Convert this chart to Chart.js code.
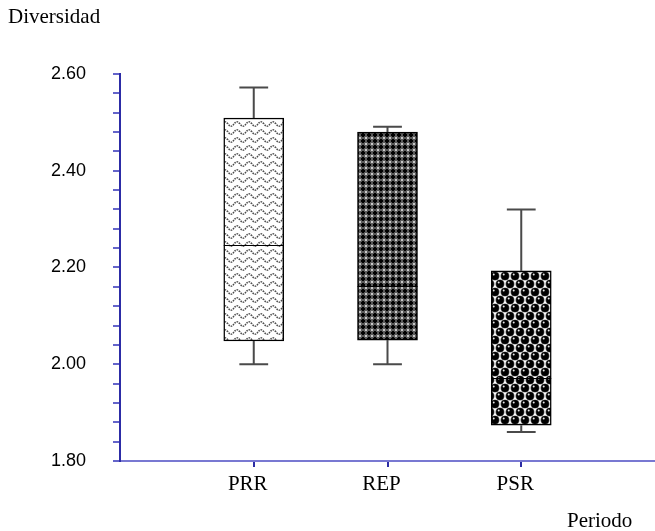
<!DOCTYPE html>
<html>
<head>
<meta charset="utf-8">
<script src="https://cdn.jsdelivr.net/npm/chart.js@4/dist/chart.umd.min.js"></script>
<style>
  html, body { margin: 0; padding: 0; background: #ffffff; }
  #wrap { width: 655px; height: 531px; position: relative; }
</style>
</head>
<body>
<div id="wrap"><canvas id="chart" width="655" height="531"></canvas></div>
<script>
// Diversity per period: box = quartiles, line = median, whiskers = min / max
const categories   = ['PRR', 'REP', 'PSR'];
const whiskerLow   = [2.000, 2.000, 1.860];
const boxLow       = [2.048, 2.050, 1.874];
const medians      = [2.247, 2.162, 1.971];
const boxHigh      = [2.509, 2.480, 2.193];
const whiskerHigh  = [2.572, 2.491, 2.320];

const yMin = 1.80, yMax = 2.60, yMinorStep = 0.04, yMajorStep = 0.20;
const yAxisTitle = 'Diversidad';
const xAxisTitle = 'Periodo';

// ---- fill patterns for the three boxes ----
function makeTile(w, h, paint) {
  const c = document.createElement('canvas');
  c.width = w; c.height = h;
  const g = c.getContext('2d');
  paint(g, w, h);
  return document.getElementById('chart').getContext('2d').createPattern(c, 'repeat');
}

// wavy dotted lines
const wavePattern = makeTile(12, 8, (g, w, h) => {
  g.fillStyle = '#ffffff'; g.fillRect(0, 0, w, h);
  g.strokeStyle = '#4a4a4a'; g.lineWidth = 1.5;
  g.setLineDash([1.6, 0.9]);
  g.beginPath();
  for (let x = -1; x <= w + 1; x += 0.5) {
    const y = 4 + 2.2 * Math.sin((x / w) * Math.PI * 2);
    if (x === -1) g.moveTo(x, y); else g.lineTo(x, y);
  }
  g.stroke();
});

// dense dark lattice
const latticePattern = makeTile(6, 6, (g, w, h) => {
  g.fillStyle = '#5a5a5a'; g.fillRect(0, 0, w, h);
  g.fillStyle = '#000000';
  g.fillRect(1, 2, 4, 2); g.fillRect(2, 1, 2, 4);
  g.fillStyle = '#c8c8c8';
  g.fillRect(0, 0, 1, 1); g.fillRect(5, 5, 1, 1); g.fillRect(5, 0, 1, 1); g.fillRect(0, 5, 1, 1);
});

// shaded balls in staggered rows
const ballPattern = makeTile(10, 16, (g, w, h) => {
  g.fillStyle = '#ffffff'; g.fillRect(0, 0, w, h);
  const balls = [[5, 4], [0, 12], [10, 12], [0, -4], [10, -4], [5, 20]];
  balls.forEach(([cx, cy]) => {
    g.beginPath(); g.arc(cx, cy, 4.6, 0, Math.PI * 2);
    g.fillStyle = '#7a7a7a'; g.fill();
    g.beginPath(); g.arc(cx, cy, 3.9, 0, Math.PI * 2);
    g.fillStyle = '#000000'; g.fill();
    g.beginPath(); g.arc(cx - 1.3, cy - 1.5, 1.0, 0, Math.PI * 2);
    g.fillStyle = '#e8e8e8'; g.fill();
  });
});

const boxFills = [wavePattern, latticePattern, ballPattern];

// whiskers, caps and median lines, placed with the chart's own scales
const boxExtras = {
  id: 'boxExtras',
  afterDatasetsDraw(chart) {
    const { ctx, scales: { x, y } } = chart;
    const meta = chart.getDatasetMeta(0);
    ctx.save();
    categories.forEach((c, i) => {
      const cx = x.getPixelForValue(i + 1);
      const bar = meta.data[i];
      const half = bar.width / 2;
      const capHalf = half * 0.48;
      ctx.strokeStyle = '#4a4a4a';
      ctx.lineWidth = 2;
      ctx.beginPath();
      ctx.moveTo(cx, y.getPixelForValue(boxHigh[i]));
      ctx.lineTo(cx, y.getPixelForValue(whiskerHigh[i]));
      ctx.moveTo(cx - capHalf, y.getPixelForValue(whiskerHigh[i]));
      ctx.lineTo(cx + capHalf, y.getPixelForValue(whiskerHigh[i]));
      ctx.moveTo(cx, y.getPixelForValue(boxLow[i]));
      ctx.lineTo(cx, y.getPixelForValue(whiskerLow[i]));
      ctx.moveTo(cx - capHalf, y.getPixelForValue(whiskerLow[i]));
      ctx.lineTo(cx + capHalf, y.getPixelForValue(whiskerLow[i]));
      ctx.stroke();
      ctx.strokeStyle = '#000000';
      ctx.lineWidth = 1;
      const my = Math.round(y.getPixelForValue(medians[i])) + 0.5;
      ctx.beginPath();
      ctx.moveTo(cx - half, my);
      ctx.lineTo(cx + half, my);
      ctx.stroke();
    });
    ctx.restore();
  },
  afterDraw(chart) {
    const { ctx } = chart;
    ctx.save();
    ctx.fillStyle = '#000000';
    ctx.font = '21px "Liberation Serif"';
    ctx.textBaseline = 'alphabetic';
    ctx.textAlign = 'left';
    ctx.fillText(yAxisTitle, 8, 23);
    ctx.fillText(xAxisTitle, 567, 527);
    ctx.restore();
  }
};

new Chart(document.getElementById('chart'), {
  type: 'bar',
  data: {
    datasets: [{
      data: categories.map((c, i) => ({ x: i + 1, y: [boxLow[i], boxHigh[i]] })),
      backgroundColor: boxFills,
      borderColor: '#000000',
      borderWidth: 1.5,
      borderSkipped: false,
      barThickness: 60
    }]
  },
  options: {
    responsive: false,
    animation: false,
    devicePixelRatio: 1,
    layout: { padding: { top: 74, right: 0, left: 0, bottom: 0 } },
    plugins: { legend: { display: false }, tooltip: { enabled: false }, title: { display: false } },
    scales: {
      x: {
        type: 'linear',
        offset: false,
        min: 0,
        max: categories.length + 1,
        afterBuildTicks: (s) => { s.ticks = categories.map((c, i) => ({ value: i + 1 })); },
        afterFit: (s) => { s.height = 70; },
        ticks: {
          autoSkip: false,
          callback: (v) => categories[v - 1] || '',
          font: { family: 'Liberation Serif', size: 21 },
          color: '#000000',
          padding: 5,
          labelOffset: -6,
          maxRotation: 0
        },
        grid: {
          offset: false,
          drawOnChartArea: false,
          drawTicks: true,
          tickLength: 6,
          color: '#2c2ca4',
          lineWidth: 2
        },
        border: { display: true, color: '#7878d2', width: 2 }
      },
      y: {
        type: 'linear',
        min: yMin,
        max: yMax,
        afterBuildTicks: (s) => {
          const n = Math.round((yMax - yMin) / yMinorStep);
          const t = [];
          for (let k = 0; k <= n; k++) t.push({ value: +(yMin + k * yMinorStep).toFixed(2) });
          s.ticks = t;
        },
        afterFit: (s) => { s.width = 120; },
        ticks: {
          autoSkip: false,
          callback: (v) => {
            const r = v / yMajorStep;
            return Math.abs(r - Math.round(r)) < 1e-6 ? v.toFixed(2) : '';
          },
          font: { family: 'Liberation Sans', size: 18 },
          color: '#000000',
          padding: 27
        },
        grid: {
          drawOnChartArea: false,
          drawTicks: true,
          tickLength: 7,
          color: '#6464ca',
          lineWidth: 2
        },
        border: { display: true, color: '#2c2ca6', width: 2 }
      }
    }
  },
  plugins: [boxExtras]
});
</script>
</body>
</html>
